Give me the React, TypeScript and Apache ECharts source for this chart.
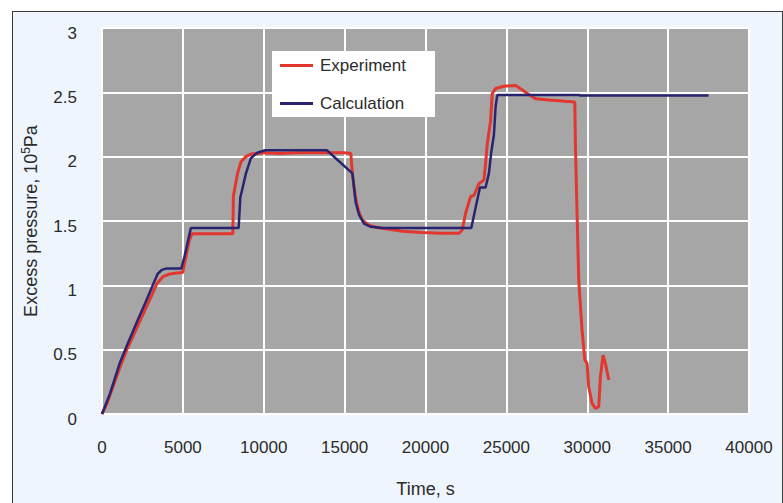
import React, { useEffect, useRef } from "react";
import * as echarts from "echarts";

// Measured excess pressure (10^5 Pa) against time (s)
const expTime = [
  0, 300, 700, 1100, 1500, 1900, 2300, 2700, 3100, 3400, 3750, 4150, 4600, 4990,
  5200, 5400, 5560, 6500, 7500, 8090, 8120, 8380, 8590, 8900, 9210, 10000, 11000,
  12000, 13000, 14000, 15000, 15380, 15480, 15650, 15855, 16100, 16510, 17000,
  17540, 18570, 19800, 21000, 22070, 22270, 22480, 22790, 23000, 23300, 23610,
  23715, 23820, 24025, 24125, 24335, 24850, 25570, 26190, 26800, 27620, 28650,
  29230, 29270, 29370, 29475, 29680, 29850, 29990, 30090, 30300, 30510, 30710,
  30815, 30975, 31120, 31330,
];
const expValue = [
  0, 0.08, 0.22, 0.36, 0.49, 0.6, 0.71, 0.82, 0.93, 1.015, 1.065, 1.087, 1.095, 1.1,
  1.23, 1.35, 1.4, 1.4, 1.4, 1.4, 1.69, 1.87, 1.96, 2.0, 2.02, 2.03, 2.025,
  2.03, 2.03, 2.03, 2.03, 2.025, 1.87, 1.7, 1.58, 1.506, 1.467, 1.45,
  1.44, 1.42, 1.41, 1.405, 1.405, 1.43, 1.56, 1.69, 1.7, 1.79, 1.82,
  1.95, 2.1, 2.28, 2.49, 2.53, 2.547, 2.554, 2.5, 2.45, 2.44, 2.43,
  2.425, 2.075, 1.56, 1.04, 0.65, 0.42, 0.394, 0.21, 0.083, 0.044, 0.057,
  0.29, 0.458, 0.394, 0.264,
];

// Computed excess pressure (10^5 Pa) against time (s)
const calcTime = [
  0, 500, 1080, 1600, 2210, 2700, 3136, 3445, 3700, 3963, 4900, 5093, 5494, 8447,
  8550, 8900, 9210, 9600, 10090, 13900, 15480, 15690, 15900, 16200, 16620, 17330,
  22830, 23365, 23715, 23920, 24060, 24230, 24335, 24440, 29480, 29550, 37500,
];
const calcValue = [
  0, 0.16, 0.39, 0.55, 0.73, 0.87, 1.0, 1.09, 1.12, 1.13, 1.13, 1.22, 1.445, 1.445,
  1.68, 1.87, 1.99, 2.03, 2.05, 2.05, 1.87, 1.64, 1.545, 1.48, 1.455, 1.445,
  1.445, 1.76, 1.76, 1.87, 2.03, 2.17, 2.39, 2.48, 2.48, 2.475, 2.475,
];

const seriesNames = ["Experiment", "Calculation"];
const seriesColors = ["#e2362f", "#28246f"];

const FONT = "'Liberation Sans', Arial, sans-serif";
const TEXT = "#2b2b2b";

export default function App() {
  const ref = useRef<HTMLDivElement>(null);

  useEffect(() => {
    if (!ref.current) return;
    const chart = echarts.init(ref.current, null, { renderer: "svg" });
    const expData = expTime.map((t, i) => [t, expValue[i]]);
    const calcData = calcTime.map((t, i) => [t, calcValue[i]]);

    chart.setOption({
      animation: false,
      textStyle: { fontFamily: FONT },
      grid: {
        left: 102,
        right: 34,
        top: 28,
        bottom: 89,
        show: true,
        backgroundColor: "#a6a6a6",
        borderWidth: 0,
      },
      graphic: [
        {
          type: "rect",
          z: 1,
          shape: { x: 272, y: 51, width: 163, height: 66 },
          style: { fill: "#ffffff" },
        },
      ],
      legend: {
        orient: "vertical",
        left: 280,
        top: 57,
        padding: 0,
        itemGap: 21,
        itemWidth: 33,
        itemHeight: 3,
        icon: "rect",
        z: 5,
        data: seriesNames,
        textStyle: { fontFamily: FONT, fontSize: 17, color: TEXT, padding: [0, 0, 0, 2] },
      },
      xAxis: {
        type: "value",
        min: 0,
        max: 40000,
        interval: 5000,
        name: "Time, s",
        nameLocation: "middle",
        nameGap: 66,
        nameTextStyle: { fontFamily: FONT, fontSize: 18, color: TEXT },
        axisLine: { show: false },
        axisTick: { show: false },
        axisLabel: {
          margin: 25,
          fontFamily: FONT,
          fontSize: 17,
          color: TEXT,
          formatter: (v: number) => String(v),
        },
        splitLine: { show: true, lineStyle: { color: "#ffffff", width: 2 } },
      },
      yAxis: {
        type: "value",
        min: 0,
        max: 3,
        interval: 0.5,
        name: "Excess pressure, 10{sup|5}Pa",
        nameLocation: "middle",
        nameGap: 60,
        nameTextStyle: {
          fontFamily: FONT,
          fontSize: 18,
          color: TEXT,
          rich: {
            sup: { fontFamily: FONT, fontSize: 12, color: TEXT, padding: [0, 0, 10, 0] },
          },
        },
        axisLine: { show: false },
        axisTick: { show: false },
        axisLabel: {
          margin: 25,
          fontFamily: FONT,
          fontSize: 17,
          color: TEXT,
          verticalAlign: "top",
          lineHeight: 10,
          formatter: (v: number) => String(v),
        },
        splitLine: { show: true, lineStyle: { color: "#ffffff", width: 2 } },
      },
      series: [
        {
          name: seriesNames[0],
          type: "line",
          data: expData,
          symbol: "none",
          color: seriesColors[0],
          lineStyle: { color: seriesColors[0], width: 3 },
          z: 2,
        },
        {
          name: seriesNames[1],
          type: "line",
          data: calcData,
          symbol: "none",
          color: seriesColors[1],
          lineStyle: { color: seriesColors[1], width: 2.5 },
          z: 3,
        },
      ],
    });
    return () => chart.dispose();
  }, []);

  return (
    <div style={{ position: "fixed", left: 0, top: 0, width: 783, height: 503, background: "#ffffff" }}>
      <div
        style={{
          position: "absolute",
          left: 12,
          top: 11,
          width: 769,
          height: 500,
          background: "#eef5fd",
          border: "1px solid #3a3a3a",
        }}
      />
      <div ref={ref} style={{ position: "absolute", left: 0, top: 0, width: 783, height: 503 }} />
    </div>
  );
}
